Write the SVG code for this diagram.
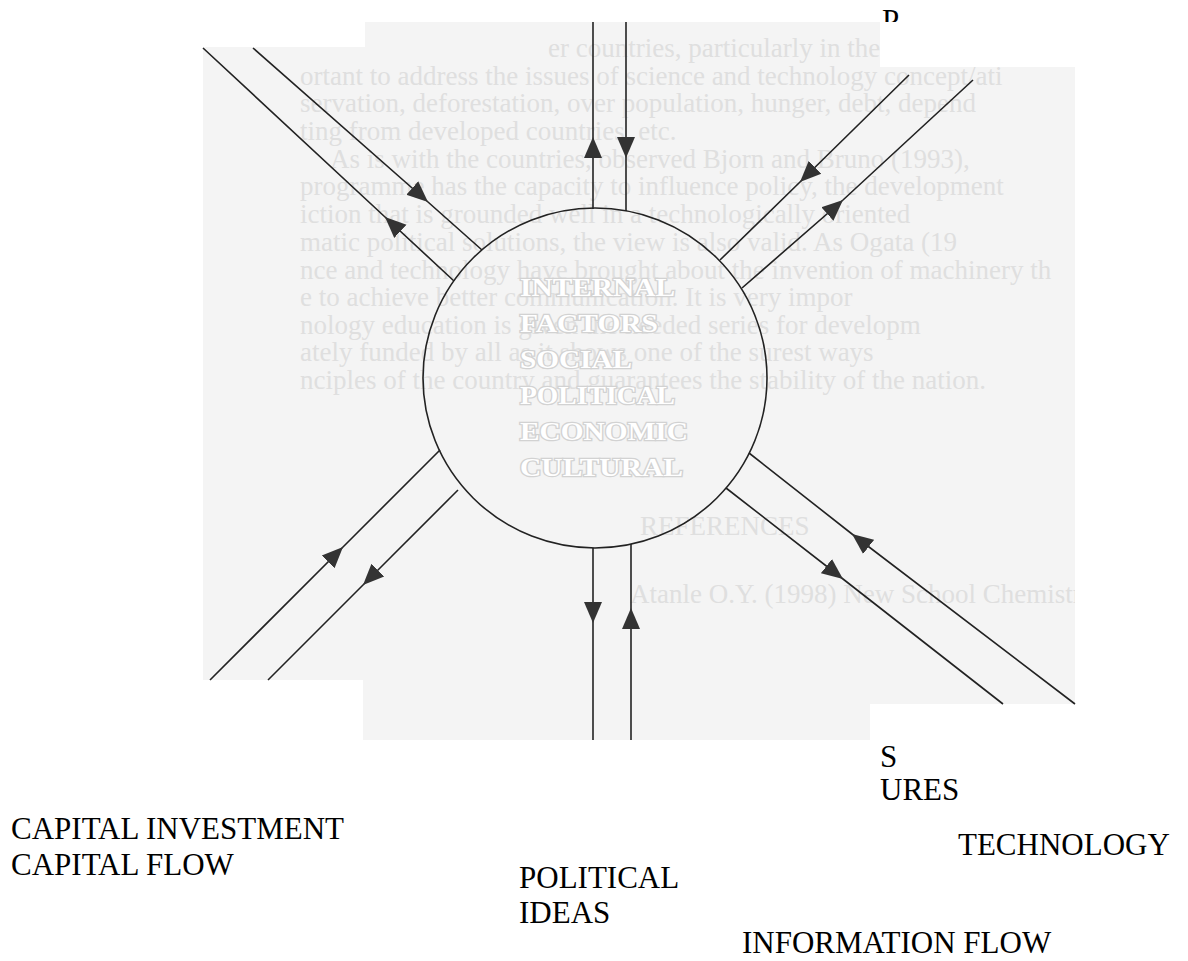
<svg xmlns="http://www.w3.org/2000/svg" width="1188" height="961" viewBox="0 0 1188 961">
<defs>
<style>
.lbl{font-family:"Liberation Serif","Times New Roman",serif;font-size:31px;fill:#000}
.bg{font-family:"Liberation Serif","Times New Roman",serif;font-size:27px;fill:#dfdfdf}
.inner{font-family:"Liberation Serif","Times New Roman",serif;font-size:25px;font-weight:bold;fill:#ffffff;stroke:#d2d2d2;stroke-width:2.5;paint-order:stroke}
.ln{fill:none;stroke:#222;stroke-width:1.6;marker-mid:url(#ah)}
</style>
<marker id="ah" markerUnits="userSpaceOnUse" markerWidth="22" markerHeight="20" refX="21" refY="10" orient="auto">
<path d="M0,1 L21,10 L0,19 z" fill="#333"/>
</marker>
<clipPath id="page">
<polygon points="203,47 365,47 365,22 880,22 880,67 1075,67 1075,704 870,704 870,740 363,740 363,680 203,680"/>
</clipPath>
</defs>
<rect width="1188" height="961" fill="#fff"/>
<g id="labels">
<text class="lbl" x="882" y="31">P</text>
<text class="lbl" x="880" y="767">S</text>
<text class="lbl" x="880" y="800">URES</text>
<text class="lbl" x="11" y="839">CAPITAL INVESTMENT</text>
<text class="lbl" x="11" y="875">CAPITAL FLOW</text>
<text class="lbl" x="519" y="888">POLITICAL</text>
<text class="lbl" x="519" y="923">IDEAS</text>
<text class="lbl" x="958" y="855">TECHNOLOGY</text>
<text class="lbl" x="742" y="953">INFORMATION FLOW</text>
</g>
<g id="page-scan">
<rect x="880" y="22" width="195" height="45" fill="#fff"/>
<polygon points="203,47 365,47 365,22 880,22 880,67 1075,67 1075,704 870,704 870,740 363,740 363,680 203,680" fill="#f4f4f4"/>
<g clip-path="url(#page)">
<text class="bg" x="548" y="57">er countries, particularly in the developing count</text>
<text class="bg" x="300" y="85">ortant to address the issues of science and technology concept/ati</text>
<text class="bg" x="300" y="112">servation, deforestation, over population, hunger, debt, depend</text>
<text class="bg" x="300" y="140">ting from developed countries, etc.</text>
<text class="bg" x="330" y="168">As is with the countries, observed Bjorn and Bruno (1993),</text>
<text class="bg" x="300" y="195">programme has the capacity to influence policy, the development</text>
<text class="bg" x="300" y="223">iction that is grounded well in a technologically oriented</text>
<text class="bg" x="300" y="251">matic political solutions, the view is also valid.  As Ogata (19</text>
<text class="bg" x="300" y="279">nce and technology have brought about the invention of machinery th</text>
<text class="bg" x="300" y="306">e to achieve better communication.   It is very impor</text>
<text class="bg" x="300" y="334">nology education is given the needed series for developm</text>
<text class="bg" x="300" y="361">ately funded by all as it shows one of the surest ways</text>
<text class="bg" x="300" y="389">nciples of the country and guarantees the stability of the nation.</text>
<text class="bg" x="640" y="535">REFERENCES</text>
<text class="bg" x="630" y="603">Atanle O.Y. (1998)    New School Chemistry. Fung</text>
</g>
</g>
<g id="core">
<ellipse cx="595" cy="378" rx="172" ry="170" fill="none" stroke="#222" stroke-width="1.6"/>
<text class="inner" x="520" y="296" textLength="155" lengthAdjust="spacingAndGlyphs">INTERNAL</text>
<text class="inner" x="520" y="332" textLength="138" lengthAdjust="spacingAndGlyphs">FACTORS</text>
<text class="inner" x="520" y="368" textLength="112" lengthAdjust="spacingAndGlyphs">SOCIAL</text>
<text class="inner" x="520" y="404" textLength="155" lengthAdjust="spacingAndGlyphs">POLITICAL</text>
<text class="inner" x="520" y="440" textLength="168" lengthAdjust="spacingAndGlyphs">ECONOMIC</text>
<text class="inner" x="520" y="476" textLength="163" lengthAdjust="spacingAndGlyphs">CULTURAL</text>
</g>
<g id="connectors">
<path class="ln" d="M593,209 L593,137 L593,22"/>
<path class="ln" d="M626,22 L626,158 L626,211"/>
<path class="ln" d="M253,48 L428,202 L482,250"/>
<path class="ln" d="M454,281 L385,217 L203,48"/>
<path class="ln" d="M909,75 L800,182 L720,260"/>
<path class="ln" d="M742,288 L843,200 L973,80"/>
<path class="ln" d="M210,680 L343,547 L440,450"/>
<path class="ln" d="M458,490 L363,585 L268,680"/>
<path class="ln" d="M593,548 L593,623 L593,740"/>
<path class="ln" d="M631,740 L631,608 L631,544"/>
<path class="ln" d="M726,488 L843,579 L1003,704"/>
<path class="ln" d="M1075,704 L852,534 L749,453"/>
</g>
</svg>
